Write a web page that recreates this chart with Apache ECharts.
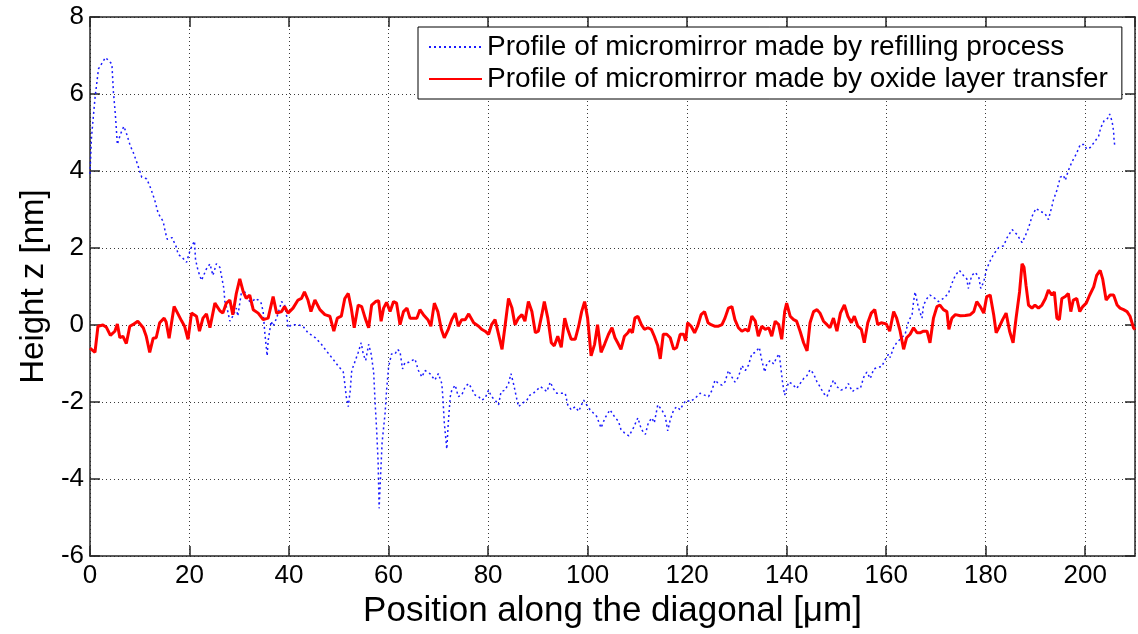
<!DOCTYPE html>
<html>
<head>
<meta charset="utf-8">
<title>Micromirror height profile</title>
<script src="https://cdn.jsdelivr.net/npm/echarts@6/dist/echarts.min.js"></script>
<style>
  html, body { margin: 0; padding: 0; background: #fff; }
  #chart { width: 1138px; height: 634px; }
</style>
</head>
<body>
<div id="chart"></div>
<script>
// Profile of the micromirror made by the refilling process (dotted blue)
const refillPos = [
  0, 0.3, 1.0, 1.7, 3.1, 4.4, 4.7, 5.1, 5.5, 6.1, 6.8, 7.4, 8.1, 8.7, 9.4, 10.4, 11.4, 12.2, 13.0, 13.7,
  14.7, 15.1, 15.5, 16.5, 17.4, 17.7, 18.5, 19.4, 20.0, 20.5, 21.0, 21.2, 21.7, 22.4, 23.4, 24.1, 24.7, 25.4, 26.1, 26.4,
  26.9, 27.1, 27.7, 28.1, 28.7, 29.4, 29.7, 30.4, 31.1, 31.8, 32.4, 33.1, 33.8, 34.4, 34.8, 35.1, 35.6, 35.8, 36.4, 36.8,
  37.5, 38.5, 39.1, 39.6, 39.8, 40.5, 41.7, 42.8, 43.8, 45.3, 46.5, 47.5, 48.8, 49.8, 50.9, 51.2, 51.5, 51.9, 52.3, 52.6,
  53.1, 53.9, 54.5, 54.9, 55.4, 56.0, 56.5, 57.0, 57.3, 57.6, 57.9, 58.1, 58.4, 58.7, 59.3, 59.6, 60.0, 60.6, 61.3, 61.8,
  62.3, 62.8, 63.3, 64.0, 65.3, 66.0, 66.7, 67.3, 68.3, 69.3, 70.0, 70.7, 70.9, 71.2, 71.7, 72.0, 72.4, 72.7, 73.4, 74.0,
  74.7, 75.4, 76.1, 76.7, 77.4, 78.1, 78.7, 79.4, 80.1, 80.7, 81.4, 82.1, 82.6, 83.4, 84.1, 84.6, 85.1, 85.6, 86.1, 86.9,
  87.8, 88.4, 89.1, 89.8, 90.5, 91.1, 91.8, 92.5, 93.1, 93.8, 94.5, 95.5, 96.0, 96.7, 97.5, 98.2, 99.2, 99.8, 100.5, 101.2,
  101.8, 102.7, 103.5, 104.5, 105.5, 106.2, 106.7, 107.4, 108.3, 109.2, 110.1, 110.8, 111.6, 112.2, 112.9, 113.4, 114.1, 114.9, 115.6, 116.1,
  116.6, 117.3, 117.9, 118.6, 119.3, 119.9, 120.6, 121.6, 122.6, 123.5, 124.3, 125.0, 125.6, 126.3, 127.0, 127.6, 128.3, 129.0, 129.6, 130.3,
  131.0, 131.7, 132.3, 133.0, 133.7, 134.5, 135.0, 135.6, 136.0, 136.7, 137.4, 138.0, 138.5, 138.9, 139.2, 139.6, 140.0, 140.4, 141.0, 142.0,
  142.7, 143.4, 144.1, 144.7, 145.4, 146.1, 146.7, 147.4, 148.1, 148.7, 149.4, 150.1, 150.9, 151.8, 152.4, 153.2, 153.9, 154.8, 155.5, 156.1,
  156.8, 157.5, 158.5, 159.1, 159.7, 160.5, 160.8, 161.5, 162.1, 163.1, 163.8, 164.5, 165.2, 165.5, 165.8, 166.5, 167.2, 167.5, 168.2, 168.8,
  169.8, 170.5, 171.5, 172.5, 173.2, 173.9, 174.7, 175.5, 176.2, 176.5, 177.2, 177.9, 178.6, 179.0, 179.6, 180.2, 180.9, 181.6, 182.6, 183.6,
  184.3, 185.3, 186.3, 187.3, 187.9, 188.6, 189.3, 190.1, 191.0, 191.9, 192.6, 193.3, 193.6, 194.3, 195.0, 195.6, 196.0, 196.6, 197.3, 198.2,
  199.0, 199.8, 200.3, 201.0, 202.0, 202.7, 203.1, 203.8, 204.5, 204.9, 205.4, 205.7, 205.8, 206.0
];
const refillHeight = [
  3.93, 4.87, 5.89, 6.65, 6.95, 6.78, 6.06, 5.46, 4.69, 4.95, 5.16, 4.95, 4.65, 4.48, 4.23, 3.84, 3.80, 3.55, 3.25, 2.90,
  2.69, 2.44, 2.23, 2.27, 2.01, 1.84, 1.76, 1.63, 1.89, 2.06, 2.18, 1.71, 1.42, 1.16, 1.46, 1.59, 1.29, 1.59, 1.50, 1.29,
  0.95, 0.61, 0.35, 0.10, 0.23, 0.44, 0.23, 0.82, 0.86, 0.69, 0.52, 0.69, 0.65, 0.57, 0.35, -0.16, -0.80, -0.41, 0.10, -0.03,
  0.18, 0.61, 0.52, 0.18, -0.07, 0.01, 0.01, -0.03, -0.20, -0.33, -0.50, -0.67, -0.88, -1.05, -1.22, -1.52, -1.86, -2.12, -1.69, -1.18,
  -1.00, -0.71, -0.46, -0.75, -0.92, -0.50, -0.75, -1.22, -2.03, -2.71, -3.56, -4.76, -3.90, -3.05, -2.29, -1.69, -1.09, -0.75, -0.75, -0.63,
  -0.69, -1.14, -0.97, -0.97, -0.88, -1.18, -1.35, -1.18, -1.26, -1.43, -1.26, -1.52, -1.86, -2.54, -3.22, -2.54, -1.86, -1.69, -1.56, -1.86,
  -1.82, -1.60, -1.52, -1.65, -1.82, -1.86, -1.95, -1.90, -1.69, -1.86, -1.95, -2.07, -1.73, -1.69, -1.52, -1.26, -1.52, -1.82, -2.12, -2.03,
  -1.95, -1.82, -1.77, -1.69, -1.60, -1.65, -1.73, -1.48, -1.65, -1.77, -1.77, -1.77, -2.07, -2.20, -2.12, -2.24, -1.95, -2.07, -2.20, -2.29,
  -2.37, -2.67, -2.41, -2.20, -2.40, -2.50, -2.71, -2.80, -2.88, -2.67, -2.41, -2.71, -2.84, -2.54, -2.41, -2.54, -2.07, -2.20, -2.37, -2.75,
  -2.46, -2.20, -2.12, -2.20, -2.03, -1.95, -1.99, -1.90, -1.77, -1.82, -1.86, -1.69, -1.43, -1.52, -1.56, -1.48, -1.18, -1.35, -1.48, -1.35,
  -1.05, -1.18, -1.05, -0.75, -0.71, -0.58, -0.92, -1.22, -1.01, -0.92, -1.01, -0.84, -0.75, -1.18, -1.52, -1.82, -1.65, -1.48, -1.52, -1.65,
  -1.52, -1.39, -1.31, -1.16, -1.26, -1.48, -1.60, -1.77, -1.86, -1.65, -1.43, -1.60, -1.69, -1.65, -1.52, -1.73, -1.65, -1.65, -1.35, -1.22,
  -1.39, -1.14, -1.09, -1.08, -0.92, -0.75, -0.84, -0.58, -0.46, -0.33, -0.24, 0.10, 0.27, 0.61, 0.86, 0.44, 0.18, 0.52, 0.69, 0.78,
  0.69, 0.61, 0.69, 0.82, 1.08, 1.29, 1.42, 1.29, 1.20, 0.95, 1.29, 1.37, 1.25, 0.95, 1.12, 1.46, 1.67, 1.84, 2.01, 2.06,
  2.27, 2.48, 2.35, 2.14, 2.30, 2.52, 2.82, 3.03, 2.95, 2.90, 2.74, 3.08, 3.25, 3.50, 3.84, 3.89, 3.76, 4.01, 4.23, 4.44,
  4.69, 4.69, 4.57, 4.61, 4.78, 4.91, 5.12, 5.31, 5.37, 5.48, 5.29, 5.03, 4.78, 4.61
];

// Profile of the micromirror made by oxide layer transfer (solid red)
const oxidePos = [
  0, 1.0, 1.6, 2.6, 3.3, 4.1, 5.0, 5.5, 6.0, 6.6, 7.3, 8.0, 8.6, 9.6, 10.7, 11.3, 12.0, 12.7, 13.3, 14.0,
  14.9, 15.3, 15.9, 16.9, 17.6, 18.4, 19.0, 19.7, 20.4, 21.4, 22.0, 22.7, 23.4, 24.1, 25.1, 26.1, 26.7, 27.4, 28.1, 28.7,
  29.4, 30.1, 30.8, 31.4, 32.1, 32.8, 33.8, 34.8, 35.8, 36.8, 37.5, 38.5, 39.1, 39.8, 40.8, 41.8, 42.5, 43.1, 43.8, 44.4,
  45.2, 46.2, 47.2, 48.2, 49.0, 49.7, 50.5, 51.2, 51.9, 52.5, 53.1, 53.9, 54.6, 55.3, 56.0, 56.6, 57.4, 58.0, 58.5, 59.0,
  59.6, 60.3, 61.0, 61.6, 62.3, 63.0, 63.7, 64.3, 65.7, 66.3, 67.0, 67.9, 68.5, 69.2, 69.9, 70.6, 71.2, 72.0, 72.7, 73.4,
  74.0, 74.7, 75.4, 76.1, 77.1, 78.1, 78.7, 79.4, 80.1, 80.7, 81.4, 82.1, 82.8, 83.4, 84.1, 84.8, 85.4, 86.1, 86.8, 87.4,
  88.1, 88.8, 89.5, 90.1, 90.8, 91.3, 92.0, 92.7, 93.3, 94.0, 94.7, 95.4, 96.0, 96.7, 97.5, 98.2, 98.8, 99.4, 100.0, 100.7,
  101.4, 102.0, 102.7, 103.4, 104.2, 104.9, 105.5, 106.2, 106.7, 107.4, 108.1, 108.5, 109.0, 109.5, 110.1, 110.8, 111.4, 112.1, 112.8, 113.4,
  114.1, 114.6, 115.2, 115.9, 116.6, 117.3, 117.9, 118.6, 119.3, 119.7, 120.1, 120.8, 121.5, 122.1, 122.8, 123.5, 124.2, 124.8, 125.5, 126.3,
  127.0, 127.6, 128.3, 129.0, 129.6, 130.3, 131.0, 131.7, 132.3, 133.0, 133.7, 134.3, 135.0, 135.7, 136.4, 137.0, 137.7, 138.4, 139.0, 139.6,
  140.0, 140.7, 141.4, 142.0, 142.7, 143.4, 144.1, 144.7, 145.4, 146.1, 146.7, 147.4, 148.1, 148.7, 149.4, 150.1, 150.8, 151.6, 152.3, 153.0,
  153.6, 154.3, 155.0, 155.6, 156.3, 157.0, 157.7, 158.3, 159.0, 160.0, 160.7, 161.5, 162.1, 162.8, 163.5, 164.1, 164.8, 165.5, 166.2, 166.8,
  167.5, 168.2, 168.8, 169.5, 170.2, 170.8, 171.5, 172.2, 172.6, 173.2, 173.9, 174.9, 175.9, 176.9, 177.6, 178.2, 178.9, 179.6, 180.2, 180.9,
  181.6, 182.1, 182.8, 183.4, 184.1, 184.8, 185.5, 186.1, 186.8, 187.3, 187.7, 188.1, 188.6, 189.3, 189.9, 190.6, 191.3, 192.0, 192.6, 193.3,
  193.8, 194.3, 194.8, 195.3, 196.0, 196.6, 197.1, 197.6, 198.3, 198.9, 199.5, 200.2, 200.9, 201.7, 202.3, 203.0, 203.5, 204.2, 205.0, 205.7,
  206.4, 207.0, 207.7, 208.4, 209.0, 209.7, 210.0
];
const oxideHeight = [
  -0.60, -0.71, -0.03, 0.00, -0.06, -0.27, -0.16, 0.03, -0.33, -0.29, -0.48, -0.03, 0.01, 0.10, -0.07, -0.29, -0.71, -0.34, -0.33, 0.06,
  0.18, 0.08, -0.34, 0.48, 0.31, 0.11, -0.03, -0.37, 0.31, 0.23, -0.16, 0.18, 0.29, -0.07, 0.57, 0.37, 0.31, 0.57, 0.65, 0.27,
  0.82, 1.20, 0.86, 0.69, 0.78, 0.40, 0.31, 0.14, 0.18, 0.74, 0.31, 0.35, 0.48, 0.31, 0.44, 0.65, 0.69, 0.86, 0.65, 0.35,
  0.65, 0.40, 0.27, 0.23, -0.16, 0.18, 0.23, 0.69, 0.82, 0.44, -0.07, 0.52, 0.48, 0.18, -0.07, 0.52, 0.61, 0.63, 0.10, 0.44,
  0.59, 0.35, 0.61, 0.57, 0.01, 0.35, 0.44, 0.18, 0.18, 0.40, 0.27, 0.14, -0.03, 0.57, 0.35, -0.11, -0.33, -0.11, 0.14, 0.31,
  -0.03, 0.14, 0.14, 0.29, 0.06, -0.03, -0.11, -0.16, -0.24, 0.01, 0.14, -0.24, -0.63, -0.03, 0.69, 0.44, 0.01, 0.18, 0.27, 0.10,
  0.61, 0.35, -0.20, -0.16, 0.27, 0.61, 0.18, -0.46, -0.54, -0.29, -0.58, 0.18, -0.11, -0.37, -0.37, -0.03, 0.35, 0.61, 0.18, -0.80,
  -0.50, 0.01, -0.71, -0.50, -0.24, -0.07, -0.33, -0.50, -0.63, -0.29, -0.20, -0.11, -0.20, 0.18, 0.23, 0.01, -0.11, -0.07, -0.11, -0.29,
  -0.54, -0.88, -0.24, -0.24, -0.33, -0.63, -0.58, -0.24, -0.24, -0.41, 0.06, -0.03, -0.20, -0.03, 0.27, 0.35, 0.06, 0.01, -0.03, -0.03,
  0.01, 0.18, 0.44, 0.48, 0.14, -0.07, -0.16, -0.11, -0.16, 0.23, 0.10, -0.29, -0.03, -0.11, -0.07, -0.29, 0.10, 0.01, -0.37, 0.35,
  0.57, 0.23, 0.14, 0.10, -0.16, -0.46, -0.67, 0.06, 0.35, 0.40, 0.31, 0.10, 0.01, -0.07, 0.18, -0.16, 0.31, 0.52, 0.23, 0.06,
  0.23, -0.03, -0.11, -0.46, 0.06, 0.31, 0.40, 0.01, 0.06, 0.03, -0.16, 0.35, 0.18, -0.16, -0.63, -0.33, -0.24, -0.07, -0.20, -0.20,
  -0.16, -0.16, -0.46, 0.18, 0.48, 0.52, 0.40, 0.35, -0.11, 0.18, 0.27, 0.24, 0.25, 0.27, 0.35, 0.61, 0.48, 0.31, 0.74, 0.78,
  0.27, -0.20, -0.03, 0.14, 0.31, -0.16, -0.46, 0.18, 0.86, 1.59, 1.50, 1.03, 0.52, 0.44, 0.52, 0.44, 0.52, 0.69, 0.91, 0.78,
  0.86, 0.18, 0.14, 0.69, 0.74, 0.82, 0.35, 0.65, 0.69, 0.35, 0.48, 0.57, 0.78, 0.99, 1.29, 1.42, 1.20, 0.65, 0.78, 0.78,
  0.52, 0.44, 0.40, 0.35, 0.23, -0.07, -0.12
];

const seriesNames = [
  'Profile of micromirror made by refilling process',
  'Profile of micromirror made by oxide layer transfer'
];
const xTitle = 'Position along the diagonal [\u03bcm]';
const yTitle = 'Height z [nm]';

const zip = (xs, ys) => xs.map((x, i) => [x, ys[i]]);

const FONT = "'Liberation Sans', Arial, Helvetica, sans-serif";
const frameColor = '#262626';
const gridLine = { show: true, lineStyle: { type: [1, 3], color: '#3a3a3a', width: 1 } };
const frameLine = { show: true, onZero: false, lineStyle: { color: frameColor, width: 1.5 } };
const innerTick = { show: true, inside: true, length: 10, lineStyle: { color: frameColor, width: 1.5 } };

const chart = echarts.init(document.getElementById('chart'), null, { renderer: 'canvas' });

chart.setOption({
  animation: false,
  backgroundColor: '#ffffff',
  grid: { left: 90, top: 17, width: 1045, height: 549, containLabel: false },
  legend: {
    orient: 'vertical',
    left: 418,
    top: 27,
    data: seriesNames,
    backgroundColor: '#ffffff',
    borderColor: '#000000',
    borderWidth: 1,
    borderRadius: 0,
    padding: [6, 14, 6, 10],
    itemGap: 4,
    itemWidth: 53,
    itemHeight: 14,
    selectedMode: false,
    // plain line samples only, no marker in the middle
    itemStyle: { opacity: 0 },
    textStyle: { fontFamily: FONT, fontSize: 28, color: '#000', lineHeight: 28 }
  },
  xAxis: [
    {
      type: 'value', position: 'bottom', min: 0, max: 210, interval: 20,
      axisLine: frameLine, axisTick: innerTick, splitLine: gridLine,
      axisLabel: { fontFamily: FONT, fontSize: 26, color: '#000', margin: 7, showMaxLabel: false },
      name: xTitle, nameLocation: 'middle', nameGap: 27,
      nameTextStyle: { fontFamily: FONT, fontSize: 35, color: '#000' }
    },
    {
      type: 'value', position: 'top', min: 0, max: 210, interval: 20,
      axisLine: frameLine, axisTick: innerTick, splitLine: { show: false },
      axisLabel: { show: false }
    }
  ],
  yAxis: [
    {
      type: 'value', position: 'left', min: -6, max: 8, interval: 2,
      axisLine: frameLine, axisTick: innerTick, splitLine: gridLine,
      axisLabel: { fontFamily: FONT, fontSize: 26, color: '#000', margin: 6 },
      name: yTitle, nameLocation: 'middle', nameGap: 40, nameRotate: 90,
      nameTextStyle: { fontFamily: FONT, fontSize: 33, color: '#000' }
    },
    {
      type: 'value', position: 'right', min: -6, max: 8, interval: 2,
      axisLine: frameLine, axisTick: innerTick, splitLine: { show: false },
      axisLabel: { show: false }
    }
  ],
  series: [
    {
      name: seriesNames[0], type: 'line', xAxisIndex: 0, yAxisIndex: 0,
      data: zip(refillPos, refillHeight),
      symbol: 'none', showSymbol: false,
      lineStyle: { color: '#1a1aff', width: 1.5, type: [2, 3] },
      itemStyle: { color: '#1a1aff' }
    },
    {
      name: seriesNames[1], type: 'line', xAxisIndex: 0, yAxisIndex: 0,
      data: zip(oxidePos, oxideHeight),
      symbol: 'none', showSymbol: false,
      lineStyle: { color: '#ff0000', width: 3, type: 'solid' },
      itemStyle: { color: '#ff0000' }
    }
  ]
});
</script>
</body>
</html>
